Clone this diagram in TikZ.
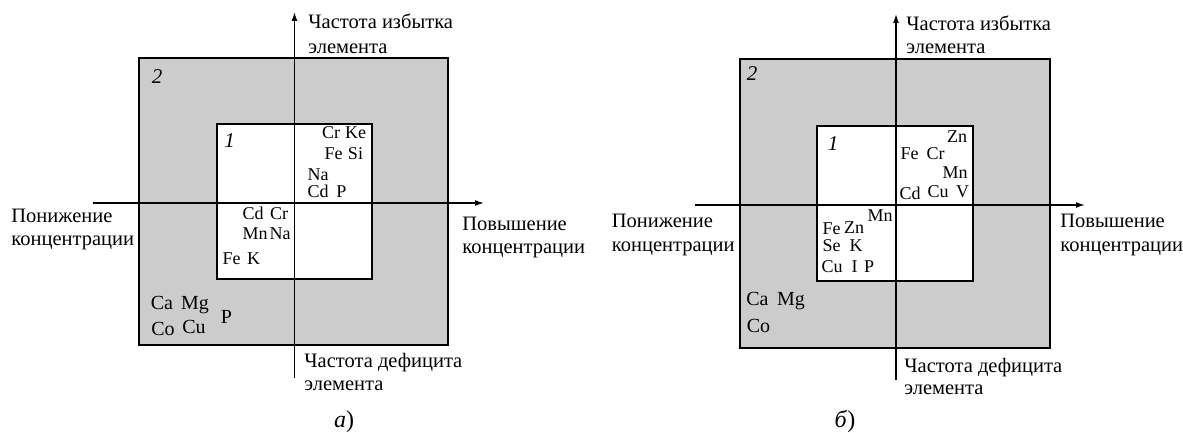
\documentclass[tikz,border=0pt]{standalone}
\usepackage{fontspec}
\setmainfont{Liberation Serif}
\newfontfamily\tnr{Liberation Serif}
\usetikzlibrary{arrows.meta}
\definecolor{boxgray}{RGB}{204,204,204}
\begin{document}
\begin{tikzpicture}[x=0.5pt,y=-0.5pt,
  axis/.style={line width=0.7pt,-{Latex[length=4.5pt,width=3pt]}},
  outerbox/.style={draw,line width=1.1pt,fill=boxgray,inner sep=0pt},
  innerbox/.style={draw,line width=1.1pt,fill=white,inner sep=0pt},
  lbl/.style={anchor=base west,inner sep=0pt,font=\tnr\fontsize{10.25}{12}\selectfont},
  el/.style={anchor=base,inner sep=0pt,font=\tnr\fontsize{9}{10}\selectfont},
  elo/.style={anchor=base,inner sep=0pt,font=\tnr\fontsize{10}{12}\selectfont},
  num/.style={anchor=base,inner sep=0pt,font=\tnr\fontsize{10.5}{12}\selectfont\itshape},
  capt/.style={anchor=base,inner sep=0pt,font=\tnr\fontsize{12}{14}\selectfont}]
\useasboundingbox (0,0) rectangle (1183,433);

% ---------------- panel a ----------------
\node[outerbox,minimum width=154.5pt,minimum height=143.5pt] (A2) at (293.5,201.5) {};
\node[innerbox,minimum width=77.5pt,minimum height=77.5pt] (A1) at (294.5,201.5) {};
\coordinate (AxL) at (93,203);
\coordinate (AxR) at (484,203);
\coordinate (AyB) at (294.5,378);
\coordinate (AyT) at (294.5,12);
\draw[axis] (AxL) -- (AxR);
\draw[axis] (AyB) -- (AyT);

\node[num] (An2) at (157,84) {2};
\node[num] (An1) at (229.5,148) {1};

\node[el] (Aa1) at (331,139) {Cr};
\node[el] (Aa2) at (355.5,139) {Ke};
\node[el] (Aa3) at (333.5,160) {Fe};
\node[el] (Aa4) at (355.5,160) {Si};
\node[el] (Aa5) at (318,180) {Na};
\node[el] (Aa6) at (318,197) {Cd};
\node[el] (Aa7) at (341.5,197) {P};
\node[el] (Ab1) at (253,220) {Cd};
\node[el] (Ab2) at (279,220) {Cr};
\node[el] (Ab3) at (255,239) {Mn};
\node[el] (Ab4) at (280,239) {Na};
\node[el] (Ab5) at (231.5,264) {Fe};
\node[el] (Ab6) at (253.5,264) {K};

\node[elo] (Ac1) at (162,309) {Ca};
\node[elo] (Ac2) at (195,309) {Mg};
\node[elo] (Ac3) at (163,335) {Co};
\node[elo] (Ac4) at (194,333) {Cu};
\node[elo] (Ac5) at (226.5,323) {P};

\node[lbl] (AT1) at (308,29) {Частота избытка};
\node[lbl] (AT2) at (308,54) {элемента};
\node[lbl] (AL1) at (11,222) {Понижение};
\node[lbl] (AL2) at (11,245) {концентрации};
\node[lbl] (AR1) at (462,230) {Повышение};
\node[lbl] (AR2) at (462,253) {концентрации};
\node[lbl] (AB1) at (304,367) {Частота дефицита};
\node[lbl] (AB2) at (304,390) {элемента};
\node[capt] (Acap) at (344,427) {\textit{а})};

% ---------------- panel b ----------------
\node[outerbox,minimum width=155pt,minimum height=144.5pt] (B2) at (895,203.5) {};
\node[innerbox,minimum width=78pt,minimum height=77.5pt] (B1) at (895,203.5) {};
\coordinate (BxL) at (695,205);
\coordinate (BxR) at (1085,205);
\coordinate (ByB) at (896,380);
\coordinate (ByT) at (896,14);
\draw[axis] (BxL) -- (BxR);
\draw[axis] (ByB) -- (ByT);

\node[num] (Bn2) at (752,81) {2};
\node[num] (Bn1) at (833,150) {1};

\node[el] (Ba1) at (957,142.5) {Zn};
\node[el] (Ba2) at (909.5,160) {Fe};
\node[el] (Ba3) at (935.5,160) {Cr};
\node[el] (Ba4) at (955,178) {Mn};
\node[el] (Ba5) at (910,199) {Cd};
\node[el] (Ba6) at (938,197) {Cu};
\node[el] (Ba7) at (962.5,197) {V};
\node[el] (Bb1) at (880,221) {Mn};
\node[el] (Bb2) at (831.5,234) {Fe};
\node[el] (Bb3) at (854,233) {Zn};
\node[el] (Bb4) at (831.5,251) {Se};
\node[el] (Bb5) at (856,251) {K};
\node[el] (Bb6) at (832,272) {Cu};
\node[el] (Bb7) at (854.5,272) {I};
\node[el] (Bb8) at (869,272) {P};

\node[elo] (Bc1) at (757.5,305) {Ca};
\node[elo] (Bc2) at (791,305) {Mg};
\node[elo] (Bc3) at (758.5,332) {Co};

\node[lbl] (BT1) at (906,31) {Частота избытка};
\node[lbl] (BT2) at (906,54) {элемента};
\node[lbl] (BL1) at (611.5,227) {Понижение};
\node[lbl] (BL2) at (611.5,251) {концентрации};
\node[lbl] (BR1) at (1060,227) {Повышение};
\node[lbl] (BR2) at (1060,251) {концентрации};
\node[lbl] (BB1) at (904,372) {Частота дефицита};
\node[lbl] (BB2) at (904,394) {элемента};
\node[capt] (Bcap) at (845,427) {\textit{б})};
\end{tikzpicture}
\end{document}
